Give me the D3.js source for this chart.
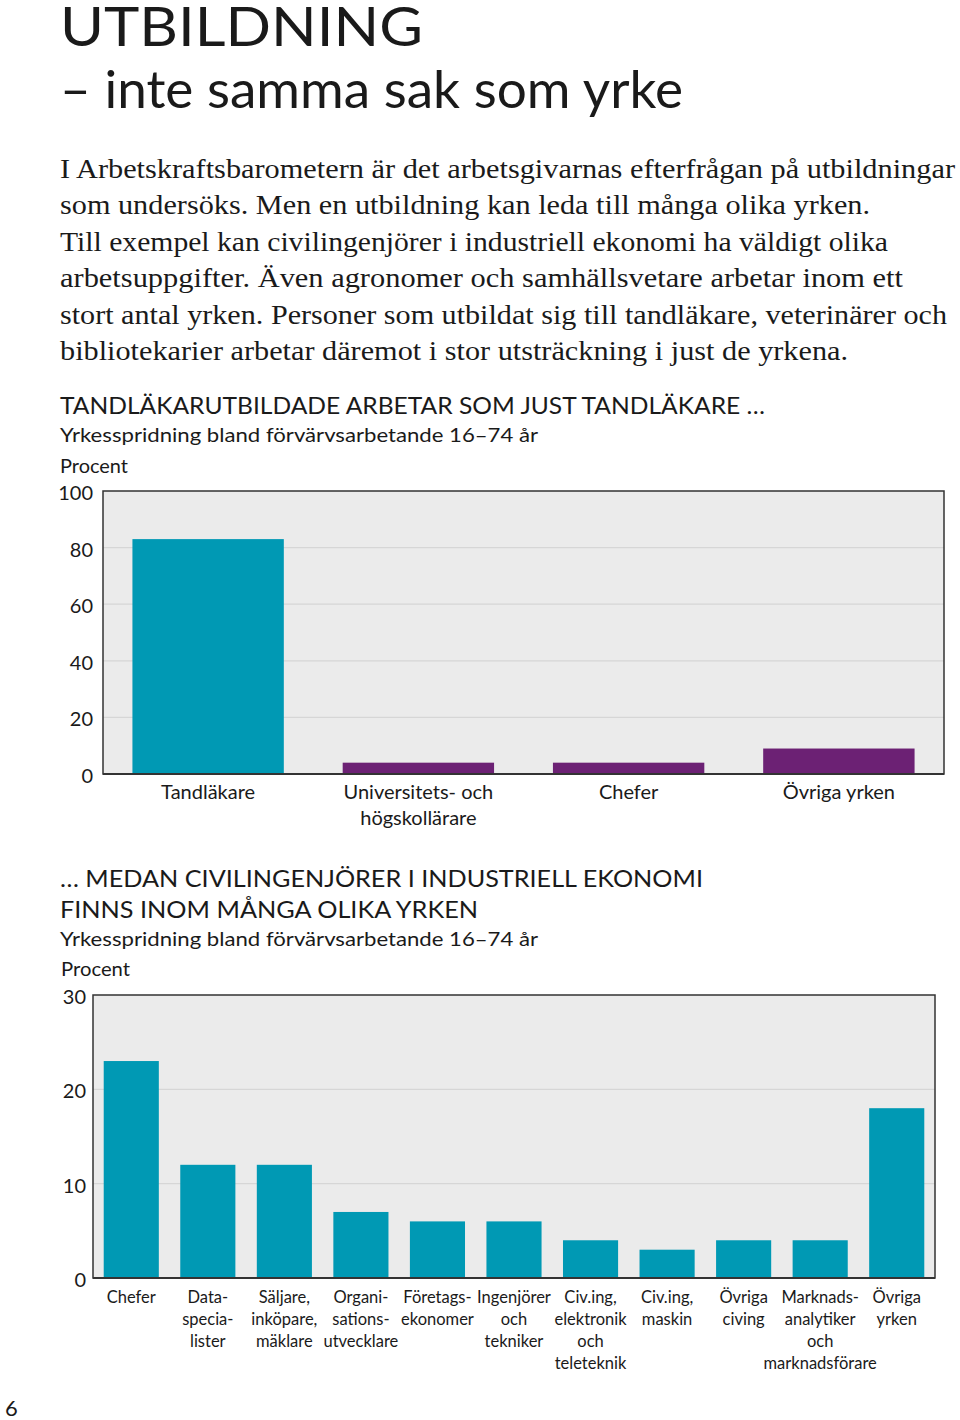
<!DOCTYPE html>
<html><head><meta charset="utf-8">
<script src="https://cdn.jsdelivr.net/npm/d3@7"></script>
<style>
html,body{margin:0;padding:0;background:#fff;}
svg{display:block;}
.sans{font-family:Lato,"Open Sans","Noto Sans",sans-serif;fill:#1a1a1a;}
.serif{font-family:"Liberation Serif","DejaVu Serif",serif;fill:#1a1a1a;}
</style></head>
<body>
<script>
// ---------- data ----------
const chart1Categories = ["Tandläkare", "Universitets- och\nhögskollärare", "Chefer", "Övriga yrken"];
const chart1Values = [83, 4, 4, 9];
const chart1Ticks = [0, 20, 40, 60, 80, 100];

const chart2Categories = [
  "Chefer", "Data-\nspecia-\nlister", "Säljare,\ninköpare,\nmäklare", "Organi-\nsations-\nutvecklare",
  "Företags-\nekonomer", "Ingenjörer\noch\ntekniker", "Civ.ing,\nelektronik\noch\nteleteknik",
  "Civ.ing,\nmaskin", "Övriga\nciving", "Marknads-\nanalytiker\noch\nmarknadsförare", "Övriga\nyrken"
];
const chart2Values = [23, 12, 12, 7, 6, 6, 4, 3, 4, 4, 18];
const chart2Ticks = [0, 10, 20, 30];

const titleLines = ["UTBILDNING", "– inte samma sak som yrke"];
const bodyLines = [
  "I Arbetskraftsbarometern är det arbetsgivarnas efterfrågan på utbildningar",
  "som undersöks. Men en utbildning kan leda till många olika yrken.",
  "Till exempel kan civilingenjörer i industriell ekonomi ha väldigt olika",
  "arbetsuppgifter. Även agronomer och samhällsvetare arbetar inom ett",
  "stort antal yrken. Personer som utbildat sig till tandläkare, veterinärer och",
  "bibliotekarier arbetar däremot i stor utsträckning i just de yrkena."
];
const chart1Heading = ["TANDLÄKARUTBILDADE ARBETAR SOM JUST TANDLÄKARE …"];
const chart2Heading = ["… MEDAN CIVILINGENJÖRER I INDUSTRIELL EKONOMI", "FINNS INOM MÅNGA OLIKA YRKEN"];
const subtitleText = "Yrkesspridning bland förvärvsarbetande 16–74 år";
const unitText = "Procent";
const pageNumber = "6";

// ---------- layout / style ----------
const W = 960, H = 1420;
const TEAL = "#0099b4", PURPLE = "#6c2174", PLOTBG = "#ebebeb", GRID = "#d6d6d6", FRAME = "#333";

const svg = d3.select("body").append("svg").attr("width", W).attr("height", H);

function txt(g, s, x, y, size, cls, width, anchor) {
  const t = g.append("text").attr("class", cls).attr("x", x).attr("y", y)
    .attr("font-size", size).attr("text-anchor", anchor || "start").text(s);
  if (width) t.attr("textLength", width).attr("lengthAdjust", "spacingAndGlyphs");
  return t;
}

// Title
txt(svg, titleLines[0], 60, 46, 54, "sans", 363);
txt(svg, titleLines[1], 60, 108, 52, "sans", 623);

// Body text
const bodyWidths = [895, 810, 828, 843, 887, 788];
bodyLines.forEach((l, i) => txt(svg, l, 60, 178 + i * 36.4, 27, "serif", bodyWidths[i]));

// Chart 1 headings
txt(svg, chart1Heading[0], 60, 414, 23, "sans", 705);
txt(svg, subtitleText, 60, 442, 20, "sans", 478);
txt(svg, unitText, 60, 473, 20, "sans", 68);

// Chart 2 headings
txt(svg, chart2Heading[0], 60, 887, 23, "sans", 643);
txt(svg, chart2Heading[1], 60, 918, 23, "sans", 418);
txt(svg, subtitleText, 60, 946, 20, "sans", 478);
txt(svg, unitText, 61, 976, 20, "sans", 69);

// Page number
txt(svg, pageNumber, 5, 1416, 22, "sans");

function barChart(opts) {
  const { x0, x1, y0, y1, cats, vals, ticks, max, colorFn, tickFont, labelFont, lineH, labelY, tickGap } = opts;
  const g = svg.append("g");
  const x = d3.scaleBand().domain(cats).range([x0, x1]).paddingInner(0.28).paddingOuter(0.14);
  const y = d3.scaleLinear().domain([0, max]).range([y1, y0]);

  g.append("rect").attr("x", x0).attr("y", y0).attr("width", x1 - x0).attr("height", y1 - y0).attr("fill", PLOTBG);

  // gridlines
  g.selectAll("line.grid").data(ticks.filter(t => t > 0 && t < max)).join("line")
    .attr("class", "grid").attr("x1", x0).attr("x2", x1)
    .attr("y1", d => y(d)).attr("y2", d => y(d))
    .attr("stroke", GRID).attr("stroke-width", 1.2);

  // bars
  g.selectAll("rect.bar").data(vals).join("rect")
    .attr("class", "bar")
    .attr("x", (d, i) => x(cats[i])).attr("width", x.bandwidth())
    .attr("y", d => y(d)).attr("height", d => y(0) - y(d))
    .attr("fill", (d, i) => colorFn(i));

  // frame
  g.append("rect").attr("x", x0).attr("y", y0).attr("width", x1 - x0).attr("height", y1 - y0)
    .attr("fill", "none").attr("stroke", FRAME).attr("stroke-width", 1.5);
  g.append("line").attr("x1", x0).attr("x2", x1).attr("y1", y1).attr("y2", y1)
    .attr("stroke", FRAME).attr("stroke-width", 2.2);

  // y axis labels
  const ya = g.append("g").attr("transform", `translate(${x0},2)`)
    .call(d3.axisLeft(y).tickValues(ticks).tickSize(0).tickPadding(tickGap));
  ya.select(".domain").remove();
  ya.selectAll("text").attr("class", "sans").attr("font-size", tickFont)
    .attr("font-family", "Lato, 'Open Sans', sans-serif").attr("fill", "#1a1a1a");

  // x labels
  const xa = g.append("g");
  cats.forEach(c => {
    const t = xa.append("text").attr("class", "sans").attr("font-size", labelFont)
      .attr("text-anchor", "middle").attr("x", x(c) + x.bandwidth() / 2).attr("y", labelY);
    c.split("\n").forEach((line, j) => {
      t.append("tspan").attr("x", x(c) + x.bandwidth() / 2).attr("y", labelY + j * lineH).text(line);
    });
  });
}

barChart({
  x0: 103, x1: 944, y0: 491, y1: 774, cats: chart1Categories, vals: chart1Values,
  ticks: chart1Ticks, max: 100, colorFn: i => i === 0 ? TEAL : PURPLE,
  tickFont: 20, labelFont: 20, lineH: 26, labelY: 799, tickGap: 10
});

barChart({
  x0: 93, x1: 935, y0: 995, y1: 1278, cats: chart2Categories, vals: chart2Values,
  ticks: chart2Ticks, max: 30, colorFn: i => TEAL,
  tickFont: 20, labelFont: 16.5, lineH: 22, labelY: 1303, tickGap: 7
});
</script>
</body></html>
